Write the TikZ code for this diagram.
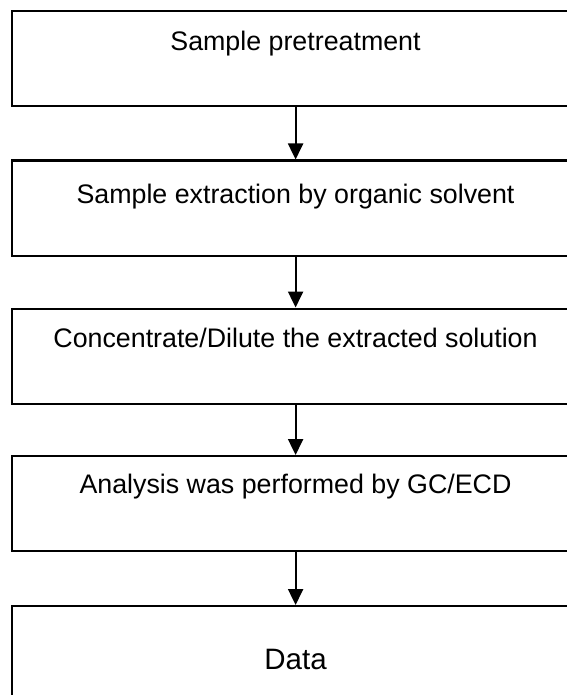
\documentclass[tikz,border=0pt]{standalone}
\usepackage{fontspec}
\setmainfont{Liberation Sans}
\usepackage{xcolor}
\usetikzlibrary{arrows.meta, positioning}
\tikzset{
  %% ── Boites ───────────────────────────────────────────────────────────
  %% Une boite par etape ; elles debordent a droite comme dans la source.
  etape/.style    = {draw=black, line width=2.2pt, rectangle, inner sep=0pt,
                     minimum width=567pt, minimum height=95pt,
                     anchor=north west},
  %%
  %% ── Fleches ──────────────────────────────────────────────────────────
  fleche/.style   = {-{Triangle[length=16pt, width=15pt]}, draw=black,
                     line width=2.2pt},
  %%
  %% ── Texte ────────────────────────────────────────────────────────────
  intitule/.style = {font=\fontsize{26.8}{31}\selectfont, inner sep=0pt,
                     anchor=base},
  resultat/.style = {intitule, font=\fontsize{29.5}{34}\selectfont},
}

\begin{document}
\begin{tikzpicture}[x=1pt, y=-1pt]

%% Cadre de la page, en pixels de la source.
\useasboundingbox (0,0) rectangle (566,695);

%% Les cinq etapes.
\node[etape] (pretraitement) at (11,10)    {};
\node[etape] (extraction)    at (11,159.5) {};
\node[etape] (concentration) at (11,307.5) {};
\node[etape] (analyse)       at (11,455)   {};
\node[etape, minimum height=100pt] (donnees) at (11,605) {};

%% Leurs intitules, pres du haut de chaque boite.
\node[intitule] (tPretraitement) at (295.5,51)    {Sample pretreatment};
\node[intitule] (tExtraction)    at (295.5,203.5) {Sample extraction by organic solvent};
\node[intitule] (tConcentration) at (295.5,347.3) {Concentrate/Dilute the extracted solution};
\node[intitule] (tAnalyse)       at (295.5,493.3) {Analysis was performed by GC/ECD};
\node[resultat] (tDonnees)       at (295.5,669)   {Data};

%% Les liaisons d'une etape a la suivante.
\draw[fleche] (pretraitement) -- (extraction);
\draw[fleche] (extraction) -- (concentration);
\draw[fleche] (concentration) -- (analyse);
\draw[fleche] (analyse) -- (donnees);

\end{tikzpicture}
\end{document}
